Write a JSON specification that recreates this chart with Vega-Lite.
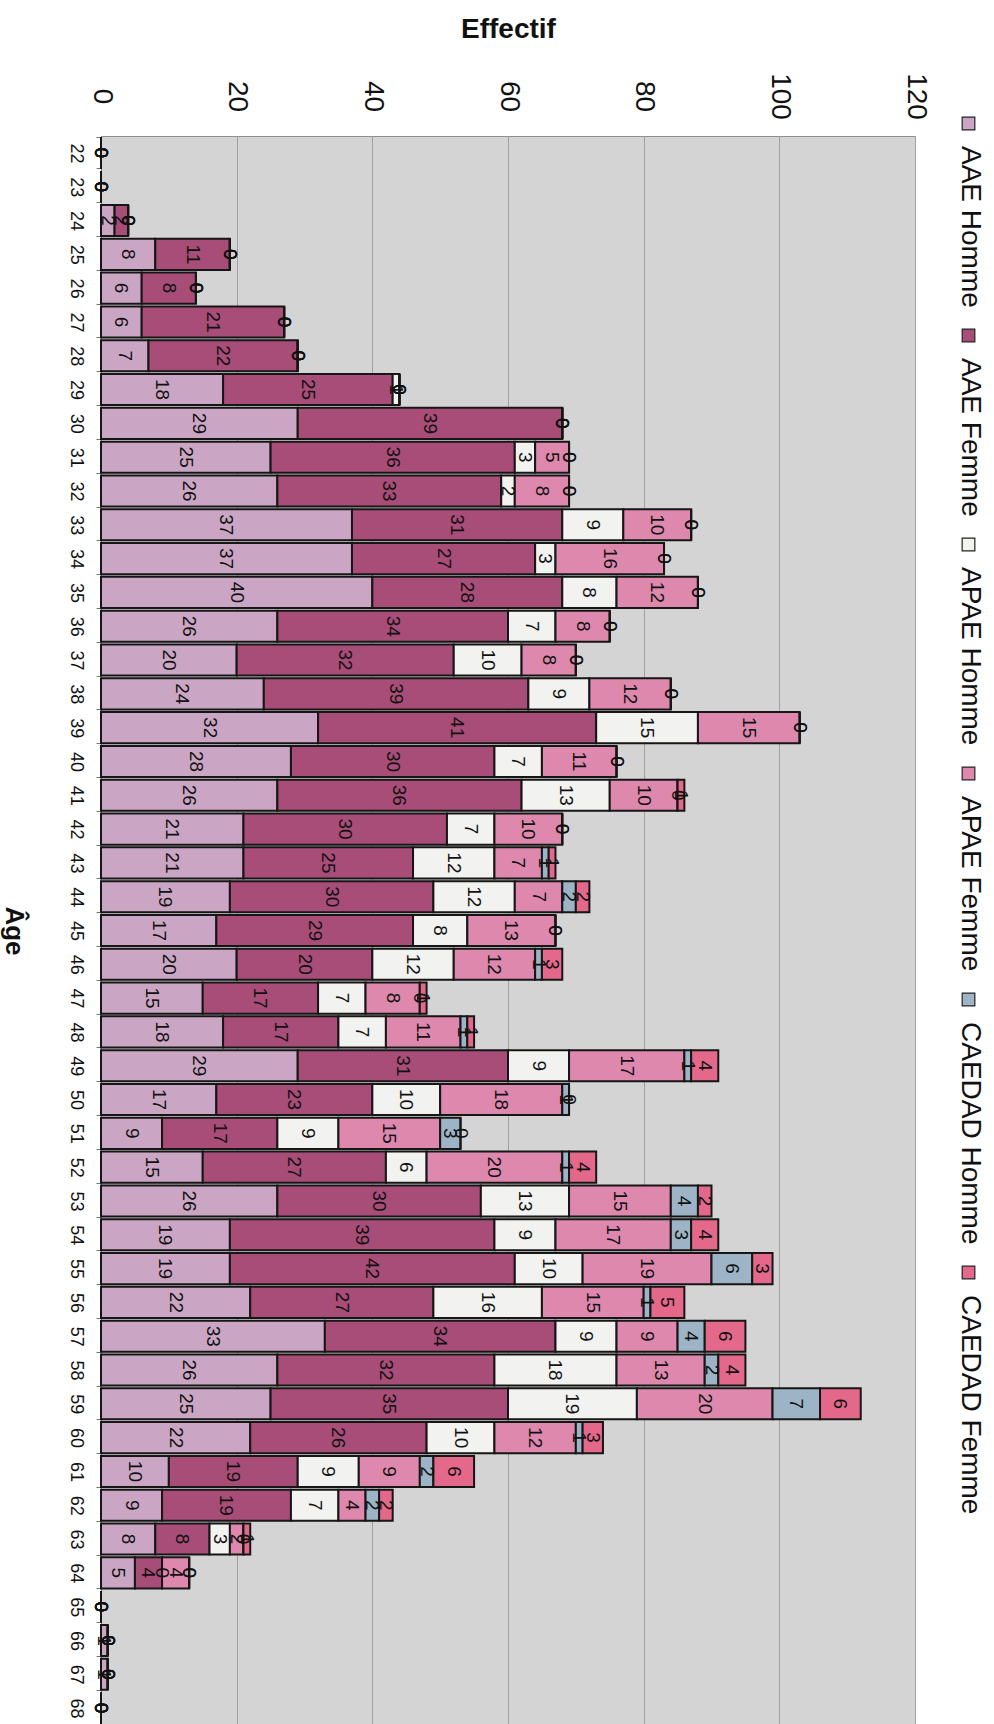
{
  "$schema": "https://vega.github.io/schema/vega-lite/v6.json",
  "padding": {"left": 0, "top": 15, "right": 0, "bottom": 0},
  "background": "white",
  "width": 814,
  "height": 1589,
  "config": {
    "font": "Liberation Sans",
    "view": {"fill": "#d3d4d3", "stroke": "#8f8f8f", "strokeWidth": 1}
  },
  "datasets": {
    "series": [
      {"serie": "AAE Homme", "rang": 1},
      {"serie": "AAE Femme", "rang": 2},
      {"serie": "APAE Homme", "rang": 3},
      {"serie": "APAE Femme", "rang": 4},
      {"serie": "CAEDAD Homme", "rang": 5},
      {"serie": "CAEDAD Femme", "rang": 6}
    ],
    "counts": [
      {"age": 22, "AAE Homme": 0, "AAE Femme": 0, "APAE Homme": 0, "APAE Femme": 0, "CAEDAD Homme": 0, "CAEDAD Femme": 0},
      {"age": 23, "AAE Homme": 0, "AAE Femme": 0, "APAE Homme": 0, "APAE Femme": 0, "CAEDAD Homme": 0, "CAEDAD Femme": 0},
      {"age": 24, "AAE Homme": 2, "AAE Femme": 2, "APAE Homme": 0, "APAE Femme": 0, "CAEDAD Homme": 0, "CAEDAD Femme": 0},
      {"age": 25, "AAE Homme": 8, "AAE Femme": 11, "APAE Homme": 0, "APAE Femme": 0, "CAEDAD Homme": 0, "CAEDAD Femme": 0},
      {"age": 26, "AAE Homme": 6, "AAE Femme": 8, "APAE Homme": 0, "APAE Femme": 0, "CAEDAD Homme": 0, "CAEDAD Femme": 0},
      {"age": 27, "AAE Homme": 6, "AAE Femme": 21, "APAE Homme": 0, "APAE Femme": 0, "CAEDAD Homme": 0, "CAEDAD Femme": 0},
      {"age": 28, "AAE Homme": 7, "AAE Femme": 22, "APAE Homme": 0, "APAE Femme": 0, "CAEDAD Homme": 0, "CAEDAD Femme": 0},
      {"age": 29, "AAE Homme": 18, "AAE Femme": 25, "APAE Homme": 1, "APAE Femme": 0, "CAEDAD Homme": 0, "CAEDAD Femme": 0},
      {"age": 30, "AAE Homme": 29, "AAE Femme": 39, "APAE Homme": 0, "APAE Femme": 0, "CAEDAD Homme": 0, "CAEDAD Femme": 0},
      {"age": 31, "AAE Homme": 25, "AAE Femme": 36, "APAE Homme": 3, "APAE Femme": 5, "CAEDAD Homme": 0, "CAEDAD Femme": 0},
      {"age": 32, "AAE Homme": 26, "AAE Femme": 33, "APAE Homme": 2, "APAE Femme": 8, "CAEDAD Homme": 0, "CAEDAD Femme": 0},
      {"age": 33, "AAE Homme": 37, "AAE Femme": 31, "APAE Homme": 9, "APAE Femme": 10, "CAEDAD Homme": 0, "CAEDAD Femme": 0},
      {"age": 34, "AAE Homme": 37, "AAE Femme": 27, "APAE Homme": 3, "APAE Femme": 16, "CAEDAD Homme": 0, "CAEDAD Femme": 0},
      {"age": 35, "AAE Homme": 40, "AAE Femme": 28, "APAE Homme": 8, "APAE Femme": 12, "CAEDAD Homme": 0, "CAEDAD Femme": 0},
      {"age": 36, "AAE Homme": 26, "AAE Femme": 34, "APAE Homme": 7, "APAE Femme": 8, "CAEDAD Homme": 0, "CAEDAD Femme": 0},
      {"age": 37, "AAE Homme": 20, "AAE Femme": 32, "APAE Homme": 10, "APAE Femme": 8, "CAEDAD Homme": 0, "CAEDAD Femme": 0},
      {"age": 38, "AAE Homme": 24, "AAE Femme": 39, "APAE Homme": 9, "APAE Femme": 12, "CAEDAD Homme": 0, "CAEDAD Femme": 0},
      {"age": 39, "AAE Homme": 32, "AAE Femme": 41, "APAE Homme": 15, "APAE Femme": 15, "CAEDAD Homme": 0, "CAEDAD Femme": 0},
      {"age": 40, "AAE Homme": 28, "AAE Femme": 30, "APAE Homme": 7, "APAE Femme": 11, "CAEDAD Homme": 0, "CAEDAD Femme": 0},
      {"age": 41, "AAE Homme": 26, "AAE Femme": 36, "APAE Homme": 13, "APAE Femme": 10, "CAEDAD Homme": 0, "CAEDAD Femme": 1},
      {"age": 42, "AAE Homme": 21, "AAE Femme": 30, "APAE Homme": 7, "APAE Femme": 10, "CAEDAD Homme": 0, "CAEDAD Femme": 0},
      {"age": 43, "AAE Homme": 21, "AAE Femme": 25, "APAE Homme": 12, "APAE Femme": 7, "CAEDAD Homme": 1, "CAEDAD Femme": 1},
      {"age": 44, "AAE Homme": 19, "AAE Femme": 30, "APAE Homme": 12, "APAE Femme": 7, "CAEDAD Homme": 2, "CAEDAD Femme": 2},
      {"age": 45, "AAE Homme": 17, "AAE Femme": 29, "APAE Homme": 8, "APAE Femme": 13, "CAEDAD Homme": 0, "CAEDAD Femme": 0},
      {"age": 46, "AAE Homme": 20, "AAE Femme": 20, "APAE Homme": 12, "APAE Femme": 12, "CAEDAD Homme": 1, "CAEDAD Femme": 3},
      {"age": 47, "AAE Homme": 15, "AAE Femme": 17, "APAE Homme": 7, "APAE Femme": 8, "CAEDAD Homme": 0, "CAEDAD Femme": 1},
      {"age": 48, "AAE Homme": 18, "AAE Femme": 17, "APAE Homme": 7, "APAE Femme": 11, "CAEDAD Homme": 1, "CAEDAD Femme": 1},
      {"age": 49, "AAE Homme": 29, "AAE Femme": 31, "APAE Homme": 9, "APAE Femme": 17, "CAEDAD Homme": 1, "CAEDAD Femme": 4},
      {"age": 50, "AAE Homme": 17, "AAE Femme": 23, "APAE Homme": 10, "APAE Femme": 18, "CAEDAD Homme": 1, "CAEDAD Femme": 0},
      {"age": 51, "AAE Homme": 9, "AAE Femme": 17, "APAE Homme": 9, "APAE Femme": 15, "CAEDAD Homme": 3, "CAEDAD Femme": 0},
      {"age": 52, "AAE Homme": 15, "AAE Femme": 27, "APAE Homme": 6, "APAE Femme": 20, "CAEDAD Homme": 1, "CAEDAD Femme": 4},
      {"age": 53, "AAE Homme": 26, "AAE Femme": 30, "APAE Homme": 13, "APAE Femme": 15, "CAEDAD Homme": 4, "CAEDAD Femme": 2},
      {"age": 54, "AAE Homme": 19, "AAE Femme": 39, "APAE Homme": 9, "APAE Femme": 17, "CAEDAD Homme": 3, "CAEDAD Femme": 4},
      {"age": 55, "AAE Homme": 19, "AAE Femme": 42, "APAE Homme": 10, "APAE Femme": 19, "CAEDAD Homme": 6, "CAEDAD Femme": 3},
      {"age": 56, "AAE Homme": 22, "AAE Femme": 27, "APAE Homme": 16, "APAE Femme": 15, "CAEDAD Homme": 1, "CAEDAD Femme": 5},
      {"age": 57, "AAE Homme": 33, "AAE Femme": 34, "APAE Homme": 9, "APAE Femme": 9, "CAEDAD Homme": 4, "CAEDAD Femme": 6},
      {"age": 58, "AAE Homme": 26, "AAE Femme": 32, "APAE Homme": 18, "APAE Femme": 13, "CAEDAD Homme": 2, "CAEDAD Femme": 4},
      {"age": 59, "AAE Homme": 25, "AAE Femme": 35, "APAE Homme": 19, "APAE Femme": 20, "CAEDAD Homme": 7, "CAEDAD Femme": 6},
      {"age": 60, "AAE Homme": 22, "AAE Femme": 26, "APAE Homme": 10, "APAE Femme": 12, "CAEDAD Homme": 1, "CAEDAD Femme": 3},
      {"age": 61, "AAE Homme": 10, "AAE Femme": 19, "APAE Homme": 9, "APAE Femme": 9, "CAEDAD Homme": 2, "CAEDAD Femme": 6},
      {"age": 62, "AAE Homme": 9, "AAE Femme": 19, "APAE Homme": 7, "APAE Femme": 4, "CAEDAD Homme": 2, "CAEDAD Femme": 2},
      {"age": 63, "AAE Homme": 8, "AAE Femme": 8, "APAE Homme": 3, "APAE Femme": 2, "CAEDAD Homme": 0, "CAEDAD Femme": 1},
      {"age": 64, "AAE Homme": 5, "AAE Femme": 4, "APAE Homme": 0, "APAE Femme": 4, "CAEDAD Homme": 0, "CAEDAD Femme": 0},
      {"age": 65, "AAE Homme": 0, "AAE Femme": 0, "APAE Homme": 0, "APAE Femme": 0, "CAEDAD Homme": 0, "CAEDAD Femme": 0},
      {"age": 66, "AAE Homme": 1, "AAE Femme": 0, "APAE Homme": 0, "APAE Femme": 0, "CAEDAD Homme": 0, "CAEDAD Femme": 0},
      {"age": 67, "AAE Homme": 1, "AAE Femme": 0, "APAE Homme": 0, "APAE Femme": 0, "CAEDAD Homme": 0, "CAEDAD Femme": 0},
      {"age": 68, "AAE Homme": 0, "AAE Femme": 0, "APAE Homme": 0, "APAE Femme": 0, "CAEDAD Homme": 0, "CAEDAD Femme": 0}
    ]
  },
  "data": {"name": "counts"},
  "transform": [
    {"fold": ["AAE Homme", "AAE Femme", "APAE Homme", "APAE Femme", "CAEDAD Homme", "CAEDAD Femme"], "as": ["serie", "n"]},
    {"lookup": "serie", "from": {"data": {"name": "series"}, "key": "serie", "fields": ["rang"]}}
  ],
  "encoding": {
    "y": {
      "field": "age", "type": "ordinal", "sort": "ascending",
      "scale": {"paddingInner": 0.08, "paddingOuter": 0.04},
      "axis": {
        "orient": "left", "title": "Âge", "titleAngle": 90, "titleBaseline": "top",
        "titleFontSize": 26, "titleFontWeight": "bold", "titleColor": "#111", "titlePadding": 40,
        "labelAngle": 90, "labelAlign": "center", "labelBaseline": "top",
        "labelFontSize": 18, "labelColor": "#111", "labelPadding": 12, "labelOverlap": false,
        "tickSize": 5, "tickColor": "#777", "tickBand": "extent", "domainColor": "#777", "grid": false
      }
    },
    "x": {
      "field": "n", "type": "quantitative", "stack": "zero",
      "scale": {"domain": [0, 120], "nice": false},
      "axis": {
        "orient": "top", "values": [0, 20, 40, 60, 80, 100, 120],
        "title": "Effectif", "titleFontSize": 28, "titleFontWeight": "bold", "titleColor": "#111", "titlePadding": 29,
        "labelAngle": 90, "labelAlign": "center", "labelBaseline": "middle",
        "labelFontSize": 28, "labelColor": "#111", "labelPadding": 40, "labelFlush": false,
        "ticks": false, "domain": false, "grid": true, "gridColor": "#a0a0a0", "gridWidth": 1
      }
    },
    "order": {"field": "rang", "type": "quantitative", "sort": "ascending"}
  },
  "layer": [
    {
      "mark": {"type": "bar", "stroke": "#161616", "strokeWidth": 2},
      "encoding": {
        "color": {
          "field": "serie", "type": "nominal",
          "sort": ["AAE Homme", "AAE Femme", "APAE Homme", "APAE Femme", "CAEDAD Homme", "CAEDAD Femme"],
          "scale": {
            "domain": ["AAE Homme", "AAE Femme", "APAE Homme", "APAE Femme", "CAEDAD Homme", "CAEDAD Femme"],
            "range": ["#cba6c4", "#a84c78", "#f2f2f0", "#de88ad", "#9cb4c5", "#e3688a"]
          },
          "legend": {
            "orient": "none", "legendX": 861, "legendY": -19, "direction": "vertical", "title": null,
            "labelFontSize": 28, "labelColor": "#111", "labelLimit": 0,
            "symbolType": "square", "symbolSize": 160, "symbolStrokeColor": "#222", "symbolStrokeWidth": 1.2,
            "rowPadding": 18,
            "encode": {
              "labels": {"update": {"angle": {"value": 90}, "x": {"value": 0}, "y": {"value": 29}, "align": {"value": "left"}, "baseline": {"value": "alphabetic"}}},
              "symbols": {"update": {"x": {"value": 6.5}, "y": {"value": 6.5}}}
            }
          }
        }
      }
    },
    {
      "mark": {"type": "text", "angle": 90, "fontSize": 19, "fill": "#111", "align": "center", "baseline": "middle"},
      "encoding": {
        "x": {"field": "n", "type": "quantitative", "stack": "zero", "bandPosition": 0.5},
        "detail": {"field": "serie"},
        "text": {"field": "n", "type": "quantitative"}
      }
    }
  ]
}
